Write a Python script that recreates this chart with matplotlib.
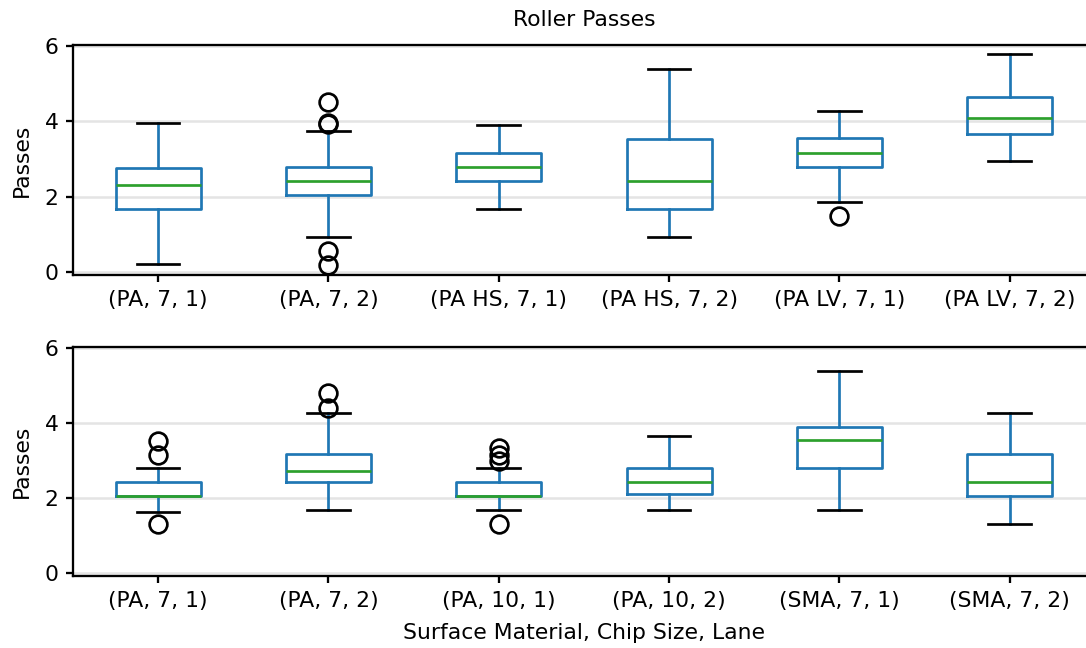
import matplotlib
matplotlib.use("Agg")
import matplotlib.pyplot as plt

# top panel: surface type comparison
top_labels = ['(PA, 7, 1)', '(PA, 7, 2)', '(PA HS, 7, 1)', '(PA HS, 7, 2)', '(PA LV, 7, 1)', '(PA LV, 7, 2)']
top_whislo = [0.2, 0.94, 1.68, 0.94, 1.85, 2.94]
top_q1 = [1.67, 2.05, 2.43, 1.68, 2.8, 3.67]
top_med = [2.31, 2.43, 2.8, 2.43, 3.16, 4.1]
top_q3 = [2.77, 2.8, 3.15, 3.54, 3.55, 4.65]
top_whishi = [3.97, 3.74, 3.91, 5.39, 4.27, 5.78]
top_fliers = [[], [4.52, 3.97, 3.94, 0.57, 0.19], [], [], [1.49], []]

# bottom panel: chip size comparison
bot_labels = ['(PA, 7, 1)', '(PA, 7, 2)', '(PA, 10, 1)', '(PA, 10, 2)', '(SMA, 7, 1)', '(SMA, 7, 2)']
bot_whislo = [1.63, 1.67, 1.67, 1.67, 1.67, 1.31]
bot_q1 = [2.06, 2.42, 2.06, 2.1, 2.79, 2.06]
bot_med = [2.06, 2.72, 2.06, 2.42, 3.54, 2.42]
bot_q3 = [2.42, 3.17, 2.42, 2.79, 3.9, 3.17]
bot_whishi = [2.8, 4.28, 2.79, 3.66, 5.4, 4.28]
bot_fliers = [[3.52, 3.16, 1.31], [4.8, 4.41], [3.34, 3.16, 2.99, 1.31], [], [], []]


def makeStats(lo, q1, med, q3, hi, fl):
  stats = []
  for i in range(len(lo)):
    stats.append({'whislo': lo[i], 'q1': q1[i], 'med': med[i], 'q3': q3[i],
                  'whishi': hi[i], 'fliers': fl[i]})
  return stats


def drawBoxes(ax, stats, labels):
  lw = 1.3
  ax.yaxis.grid(True, color='#e4e4e4', linewidth=1.2)
  ax.set_axisbelow(True)
  ax.bxp(stats, positions=range(1, len(stats) + 1), widths=0.5,
         boxprops=dict(color='#1f77b4', linewidth=lw),
         whiskerprops=dict(color='#1f77b4', linewidth=lw),
         medianprops=dict(color='#2ca02c', linewidth=lw),
         capprops=dict(color='black', linewidth=lw),
         flierprops=dict(marker='o', markerfacecolor='none', markeredgecolor='black',
                         markersize=8.5, markeredgewidth=1.3))
  ax.set_xticks(range(1, len(stats) + 1))
  ax.set_xticklabels(labels)
  ax.set_xlim(0.5, len(stats) + 0.5)
  ax.set_ylim(-0.08, 6.03)
  ax.set_yticks([0, 2, 4, 6])
  ax.set_ylabel('Passes', labelpad=6)
  for s in ax.spines.values():
    s.set_linewidth(1.1)
  ax.tick_params(width=1.1)
  return


plt.rcParams['font.size'] = 10.5
fig = plt.figure(figsize=(7.24, 4.32), dpi=150)
ax1 = fig.add_axes([0.0672, 0.5756, 0.941, 0.355])
ax2 = fig.add_axes([0.0672, 0.1111, 0.941, 0.3534])

drawBoxes(ax1, makeStats(top_whislo, top_q1, top_med, top_q3, top_whishi, top_fliers), top_labels)
drawBoxes(ax2, makeStats(bot_whislo, bot_q1, bot_med, bot_q3, bot_whishi, bot_fliers), bot_labels)
ax1.set_title('Roller Passes', fontsize=10.5, pad=9)
ax2.set_xlabel('Surface Material, Chip Size, Lane', labelpad=6)

plt.savefig('out.png', dpi=150)
